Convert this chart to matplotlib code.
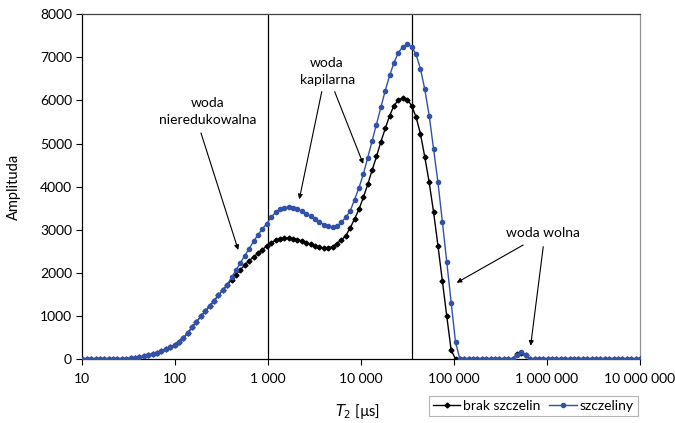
import numpy as np
import matplotlib
matplotlib.use("Agg")
import matplotlib.pyplot as plt
from matplotlib.ticker import FuncFormatter, FixedLocator, NullLocator

plt.rcParams['font.family'] = ['Lato', 'DejaVu Sans']
plt.rcParams['font.size'] = 10

# T2 bins (log-spaced, 128 points from 10 us to 10 s)
t2 = np.logspace(1, 7, 128)

# amplitudes, index 0..127
brak_szczelin = [
    0, 0, 0, 0, 0, 0, 0, 0, 0, 3,
    8, 15, 25, 45, 65, 90, 120, 150, 185, 230,
    275, 330, 400, 490, 600, 740, 860, 990, 1110, 1230,
    1350, 1480, 1600, 1720, 1840, 1960, 2075, 2180, 2280, 2370,
    2450, 2540, 2620, 2700, 2750, 2790, 2800, 2805, 2795, 2770,
    2740, 2700, 2660, 2620, 2590, 2580, 2580, 2610, 2680, 2760,
    2860, 3040, 3250, 3470, 3750, 4050, 4380, 4700, 5040, 5350,
    5650, 5880, 6010, 6060, 6020, 5880, 5620, 5230, 4690, 4100,
    3410, 2630, 1810, 1000, 210, 0, 0, 0, 0, 0,
    0, 0, 0, 0, 0, 0, 0, 0, 0, 110,
    140, 100, 0, 0, 0, 0, 0, 0, 0, 0,
    0, 0, 0, 0, 0, 0, 0, 0, 0, 0,
    0, 0, 0, 0, 0, 0, 0, 0,
]
szczeliny = [
    0, 0, 0, 0, 0, 0, 0, 0, 0, 3,
    8, 15, 25, 45, 65, 90, 120, 150, 185, 230,
    275, 330, 400, 490, 600, 740, 860, 990, 1110, 1230,
    1350, 1480, 1600, 1720, 1900, 2060, 2230, 2400, 2560, 2730,
    2880, 3020, 3140, 3290, 3400, 3470, 3510, 3525, 3510, 3480,
    3430, 3370, 3310, 3240, 3180, 3120, 3075, 3060, 3090, 3170,
    3290, 3430, 3700, 3970, 4290, 4670, 5060, 5440, 5850, 6230,
    6580, 6880, 7110, 7250, 7300, 7250, 7070, 6740, 6260, 5650,
    4880, 4100, 3190, 2250, 1300, 390, 0, 0, 0, 0,
    0, 0, 0, 0, 0, 0, 0, 0, 0, 100,
    160, 90, 0, 0, 0, 0, 0, 0, 0, 0,
    0, 0, 0, 0, 0, 0, 0, 0, 0, 0,
    0, 0, 0, 0, 0, 0, 0, 0,
]

cutoffs = [1000, 35000]
xticks = [10, 100, 1000, 10000, 100000, 1000000, 10000000]

fig = plt.figure(figsize=(6.75, 4.23), dpi=100)
ax = fig.add_axes([0.122, 0.1513, 0.826, 0.815])

ax.plot(t2, brak_szczelin, color='black', lw=1, marker='D', ms=2.5, label='brak szczelin', zorder=3)
ax.plot(t2, szczeliny, color='#3152a8', lw=1, marker='o', ms=3.0, label='szczeliny', zorder=4)

for c in cutoffs:
    ax.axvline(c, color='black', lw=0.9, zorder=2)

ax.set_xscale('log')
ax.set_xlim(10, 1e7)
ax.set_ylim(0, 8000)
ax.xaxis.set_major_locator(FixedLocator(xticks))
ax.xaxis.set_minor_locator(NullLocator())
ax.xaxis.set_major_formatter(FuncFormatter(lambda v, p: '{:,}'.format(int(round(v))).replace(',', ' ')))
ax.set_yticks(range(0, 8001, 1000))
ax.tick_params(axis='both', direction='out', length=4, width=0.8, labelsize=10, colors='black')
ax.tick_params(axis='x', pad=6)

ax.spines['left'].set_color('black')
ax.spines['bottom'].set_color('black')
ax.spines['top'].set_color('#404040')
ax.spines['right'].set_color('#909090')
for s in ax.spines.values():
    s.set_linewidth(0.9)

ax.set_ylabel('Amplituda', fontsize=10.5)
ax.yaxis.set_label_coords(-0.11, 0.5)
ax.set_xlabel(r'$\mathit{T}_2$ [µs]', fontsize=10.5)
ax.xaxis.set_label_coords(0.494, -0.125)

ap = dict(arrowstyle='-|>', lw=0.8, color='black', mutation_scale=7, shrinkA=0, shrinkB=0)

ax.text(225, 5733, 'woda\nnieredukowalna', ha='center', va='center', fontsize=10, linespacing=1.5)
ax.annotate('', xy=(476, 2530), xytext=(189, 5245), arrowprops=ap)

ax.text(4300, 6661, 'woda\nkapilarna', ha='center', va='center', fontsize=10, linespacing=1.5)
ax.annotate('', xy=(2160, 3707), xytext=(3770, 6204), arrowprops=ap)
ax.annotate('', xy=(10540, 4526), xytext=(5190, 6204), arrowprops=ap)

ax.text(897000, 2917, 'woda wolna', ha='center', va='center', fontsize=10)
ax.annotate('', xy=(106700, 1770), xytext=(554000, 2645), arrowprops=ap)
ax.annotate('', xy=(667000, 308), xytext=(912000, 2606), arrowprops=ap)

leg = fig.legend(loc='lower right', bbox_to_anchor=(0.955, 0.0), ncol=2, frameon=True,
                 fancybox=False, edgecolor='#a0a0a0', fontsize=10, handlelength=2.0,
                 borderpad=0.3, columnspacing=0.6, handletextpad=0.2)
leg.get_frame().set_linewidth(0.8)

fig.savefig('out.png', dpi=100)
